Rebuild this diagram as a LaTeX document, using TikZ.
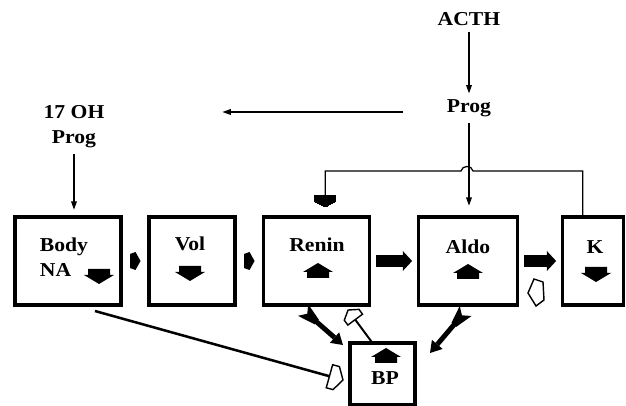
\documentclass[tikz,border=0pt]{standalone}
\usepackage{fontspec}
\setmainfont{Liberation Serif}[FakeStretch=1.1]
\usepackage{tikz}
\usetikzlibrary{arrows.meta,positioning,calc}

\pgfdeclarearrow{
  name=House,
  parameters={\the\pgfarrowlength,\the\pgfarrowwidth,\the\pgfarrowlinewidth,\ifpgfarrowopen o\fi},
  setup code={
    \pgfarrowssettipend{0pt}
    \pgfarrowssetbackend{-\pgfarrowlength}
    \pgfarrowssetlineend{-\pgfarrowlength}
    \pgfarrowssavethe\pgfarrowlength
    \pgfarrowssavethe\pgfarrowwidth
    \pgfarrowssavethe\pgfarrowlinewidth
  },
  drawing code={
    \pgfsetlinewidth{\pgfarrowlinewidth}
    \pgfsetmiterjoin
    \pgfpathmoveto{\pgfpointorigin}
    \pgfpathlineto{\pgfqpoint{-.5\pgfarrowlength}{.5\pgfarrowwidth}}
    \pgfpathlineto{\pgfqpoint{-\pgfarrowlength}{.5\pgfarrowwidth}}
    \pgfpathlineto{\pgfqpoint{-\pgfarrowlength}{-.5\pgfarrowwidth}}
    \pgfpathlineto{\pgfqpoint{-.5\pgfarrowlength}{-.5\pgfarrowwidth}}
    \pgfpathclose
    \ifpgfarrowopen\pgfusepathqstroke\else\pgfusepathqfillstroke\fi
  },
  defaults={length=10pt,width=12pt,line width=1pt}
}

\pgfdeclarearrow{
  name=Fletch,
  parameters={\the\pgfarrowlength,\the\pgfarrowwidth,\the\pgfarrowinset},
  setup code={
    \pgfarrowssettipend{0pt}
    \pgfarrowssetbackend{-\pgfarrowlength}
    \pgfarrowssetlineend{-.95\pgfarrowlength}
    \pgfarrowssavethe\pgfarrowlength
    \pgfarrowssavethe\pgfarrowwidth
    \pgfarrowssavethe\pgfarrowinset
  },
  drawing code={
    \pgfpathmoveto{\pgfqpoint{0pt}{.5\pgfarrowwidth}}
    \pgfpathlineto{\pgfqpoint{-\pgfarrowlength}{.2\pgfarrowwidth}}
    \pgfpathlineto{\pgfqpoint{-\pgfarrowlength}{-.2\pgfarrowwidth}}
    \pgfpathlineto{\pgfqpoint{0pt}{-.5\pgfarrowwidth}}
    \pgfpathlineto{\pgfqpoint{-\pgfarrowinset}{0pt}}
    \pgfpathclose
    \pgfusepathqfill
  },
  defaults={length=12pt,width=12pt,inset=4pt}
}

\begin{document}
\begin{tikzpicture}[x=0.025cm,y=-0.025cm,every node/.style={font=\fontsize{14}{18}\selectfont\bfseries},box/.style={draw,line width=2.2pt,minimum height=2.2cm,outer sep=0pt},lbl/.style={inner sep=4pt},thinarr/.style={line width=1pt,-{Triangle[length=6pt,width=4pt]}},thinline/.style={line width=0.9pt},blockarr/.style={line width=9pt,-{Triangle[length=6.5pt,width=14pt,line width=0pt]},shorten <=0.18cm,shorten >=0.15cm},fletch/.style={line width=3.5pt,{Fletch[length=13pt,width=11pt,inset=4pt]}-{Triangle[length=8pt,width=10pt,line width=0pt]}},hollow/.style={line width=1.4pt,-{House[open,length=8.5pt,width=13pt,line width=1pt]}},dnarr/.pic={\fill (-11,-7) -- (11,-7) -- (11,-1) -- (15,-1) -- (0,8) -- (-15,-1) -- (-11,-1) -- cycle;},uparr/.pic={\fill (-11,7) -- (11,7) -- (11,1) -- (15,1) -- (0,-8) -- (-15,1) -- (-11,1) -- cycle;},smallarr/.pic={\fill (-5,-7) -- (0.5,-9) -- (5.5,0) -- (0.5,9) -- (-5,7) -- cycle;}]
\useasboundingbox (0,0) rectangle (626,406);
\node[box,minimum width=2.65cm] (body) at (68,261) {};
\node[box,minimum width=2.15cm,right=0.7cm of body] (vol) {};
\node[box,minimum width=2.65cm,right=0.7cm of vol] (renin) {};
\node[box,minimum width=2.475cm,right=1.225cm of renin] (aldo) {};
\node[box,minimum width=1.525cm,right=1.125cm of aldo] (k) {};
\node[box,minimum width=1.625cm,minimum height=1.55cm] (bp) at (382.5,374) {};
\node[lbl,align=left,anchor=west] (bodytxt) at (34,257) {Body\\NA};
\node[lbl] (voltxt) at (190,244) {Vol};
\node[lbl] (renintxt) at (317,245) {Renin};
\node[lbl] (aldotxt) at (468,247) {Aldo};
\node[lbl] (ktxt) at (595,247) {K};
\node[lbl] (bptxt) at (385,378) {BP};
\pic at (99,276) {dnarr};
\pic at (190,273) {dnarr};
\pic at (318,271) {uparr};
\pic at (468,272) {uparr};
\pic at (596,274) {dnarr};
\pic at (386,356) {uparr};
\pic at ($(body.east)!.5!(vol.west)$) {smallarr};
\pic at ($(vol.east)!.5!(renin.west)$) {smallarr};
\node[lbl] (acth) at (469,19) {ACTH};
\node[lbl] (prog) at (469,108) {Prog};
\node[lbl,align=center] (ohprog) at (74,127) {17 OH\\Prog};
\draw[thinarr] (acth) -- (prog);
\draw[thinarr,shorten <=0.95cm,shorten >=2.8cm] ([yshift=-0.1cm]prog.west) -- ([yshift=-0.1cm]prog.west -| ohprog.east);
\draw[thinarr,shorten >=0.18cm] (ohprog.south) -- (ohprog.south |- body.north);
\draw[thinarr,shorten >=0.28cm] (prog) -- (prog |- aldo.north);
\draw[thinline,-{House[length=8pt,width=15pt,line width=0pt]},shorten >=0.25cm] ([xshift=-0.25cm]k.north) |- (473,171) .. controls (472,165) and (462,165) .. (461,171) -| ([xshift=0.23cm]renin.north);
\draw[blockarr] (renin) -- (aldo);
\draw[blockarr] (aldo) -- (k);
\draw[fletch] ($(renin.south)+(-13,5)$) -- ($(bp.north west)+(-7,2)$);
\draw[fletch] ($(aldo.south)+(-2,6)$) -- ($(bp.north east)+(15,10)$);
\draw[hollow] ([xshift=-0.25cm]bp.north) -- ($(renin.south east)+(-21,5)$);
\draw[hollow,line width=1.8pt,-{House[open,length=10pt,width=17pt,line width=1pt]}] ($(body.south)+(27,6)$) -- ($(bp.west)+(-7,6)$);
\draw[line width=1pt,line join=miter] (528,293) -- (534,279) -- (543,282) -- (544,300) -- (536,306) -- cycle;
\end{tikzpicture}
\end{document}
